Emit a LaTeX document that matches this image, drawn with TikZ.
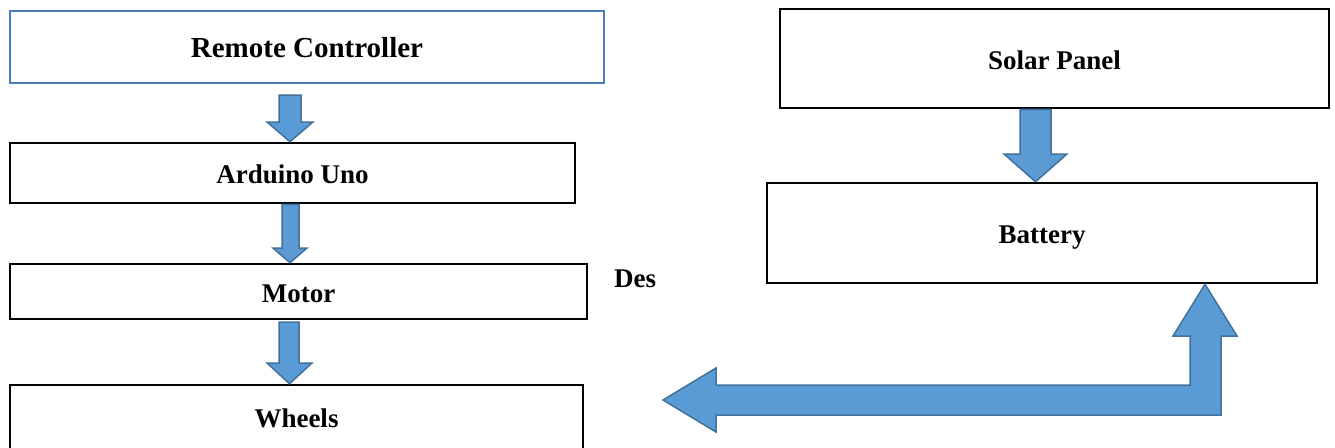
\documentclass[tikz,border=0pt]{standalone}
\usepackage{fontspec}
\setmainfont{Liberation Serif}
\definecolor{arrowfill}{HTML}{5B9BD5}
\definecolor{arrowline}{HTML}{41719C}
\definecolor{boxblue}{HTML}{4A7EBB}
\tikzset{
  box/.style={draw=black, line width=2.5pt, inner sep=0pt, text height=21pt, text depth=0pt,
    font=\fontsize{27}{32}\selectfont\bfseries},
  blockarrow/.style={fill=arrowfill, draw=arrowline, line width=1.5pt, line join=miter},
}
\begin{document}
\begin{tikzpicture}[x=1pt,y=-1pt]
\useasboundingbox (0,0) rectangle (1335,447);
\fill[white] (0,0) rectangle (1335,447);
\clip (0,0) rectangle (1335,447);
% boxes
\node[box, draw=boxblue, minimum width=594pt, minimum height=72pt, text height=20pt,
      font=\fontsize{29}{35}\selectfont\bfseries] (remote) at (307,47) {Remote Controller};
\node[box, minimum width=565pt, minimum height=60pt] (arduino) at (292.5,173) {Arduino Uno};
\node[box, minimum width=577pt, minimum height=55pt] (motor) at (298.5,291.5) {Motor};
\node[box, minimum width=573pt, minimum height=64pt] (wheels) at (296.5,417) {Wheels};
\node[box, minimum width=549pt, minimum height=99pt] (solar) at (1054.5,58.5) {Solar Panel};
\node[box, minimum width=550pt, minimum height=100pt] (battery) at (1042,233) {Battery};
\node[font=\fontsize{27}{32}\selectfont\bfseries, anchor=base west, inner sep=0pt] (des) at (614,287) {Des};
% block arrows
\draw[blockarrow] (279,95) -- (279,122) -- (267,122) -- (arduino.north -| 290,0)
  -- (313,122) -- (301,122) -- (301,95) -- cycle;
\draw[blockarrow] (arduino.south -| 282,0) -- (282,248) -- (273,248) -- (motor.north -| 290,0)
  -- (307,248) -- (299,248) -- (arduino.south -| 299,0) -- cycle;
\draw[blockarrow] (279,322) -- (279,363) -- (267,363) -- (wheels.north -| 289.5,0)
  -- (312,363) -- (299,363) -- (299,322) -- cycle;
\draw[blockarrow] (solar.south -| 1020,0) -- (1020,154) -- (1004,154) -- (battery.north -| 1035.5,0)
  -- (1067,154) -- (1051,154) -- (solar.south -| 1051,0) -- cycle;
\coordinate (wtip) at (663,400);
\draw[blockarrow] (wtip) -- (716,368) -- (716,385) -- (1190,385) -- (1190,336) -- (1173,336)
  -- (battery.south -| 1205,0) -- (1237,336) -- (1221,336) -- (1221,415) -- (716,415)
  -- (716,432) -- cycle;
\end{tikzpicture}
\end{document}
